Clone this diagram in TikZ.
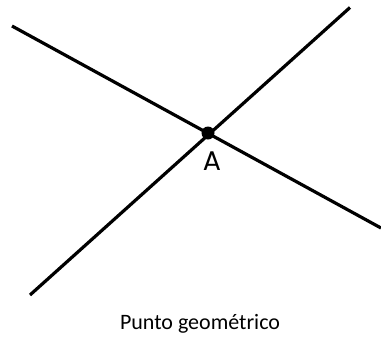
\documentclass[tikz,border=0pt]{standalone}
\usepackage{fontspec}
\setmainfont{Carlito}
\newfontfamily\geofont{Poppins}
\begin{document}
\begin{tikzpicture}[x=1pt,y=-1pt,
  linea/.style={line width=3.2pt},
  punto/.style={circle,fill=black,inner sep=0pt,minimum size=13pt}]
\useasboundingbox (0,0) rectangle (381,338);
\coordinate (l1a) at (12,26);
\coordinate (l1b) at (381,228);
\coordinate (l2a) at (30,295);
\coordinate (l2b) at (350,7.5);
\draw[linea] (l1a) -- (l1b);
\draw[linea] (l2a) -- (l2b);
\node[punto] (A) at (208,133) {};
\node[font=\geofont\fontsize{27}{27}\selectfont, anchor=base, inner sep=0pt] (lblA) at (212,170) {A};
\node[font=\fontsize{22}{22}\selectfont, anchor=base, inner sep=0pt] (cap) at (200,329.5) {Punto geométrico};
\end{tikzpicture}
\end{document}
